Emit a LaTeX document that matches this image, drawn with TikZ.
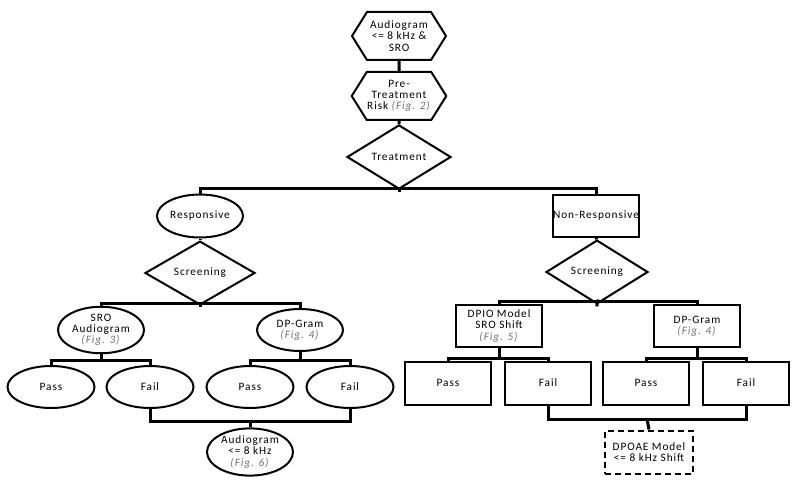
\documentclass[tikz,border=0pt]{standalone}
\usepackage{fontspec}
\setmainfont{Carlito}[LetterSpace=8]
\usetikzlibrary{shapes.geometric,shapes.symbols}
\newcommand{\figref}[1]{\textcolor{black!55}{\textit{(#1)}}}
\begin{document}
\begin{tikzpicture}[x=1pt,y=-1pt,
  base/.style={draw=black,line width=2pt,align=center,inner sep=0.5pt,
    font=\fontsize{11.3}{11.3}\selectfont},
  hexa/.style={base,signal,signal to=east and west,signal pointer angle=116,
    minimum width=94pt,minimum height=48pt},
  dia/.style={base,diamond,minimum width=104pt,minimum height=46pt},
  ell/.style={base,ellipse,minimum width=86pt,minimum height=42pt},
  box/.style={base,rectangle,minimum width=86pt,minimum height=42pt},
  conn/.style={line width=3pt,line cap=rect},
  connend/.style={line width=3pt,line cap=butt}]
\useasboundingbox (0,0) rectangle (800,481);
% top chain
\node[hexa] (aud) at (399,36) {Audiogram\\<= 8 kHz \&\\SRO};
\node[hexa] (pre) at (399,96) {Pre-\\Treatment\\Risk \figref{Fig. 2}};
\node[dia] (treat) at (399,157) {Treatment};
\node[ell,minimum height=43pt] (resp) at (200,216) {Responsive};
\node[box] (nonresp) at (596,216) {Non-Responsive};
\node[dia,minimum width=110pt,minimum height=40pt] (scrL) at (200,273) {Screening};
\node[dia,minimum width=102pt,minimum height=38pt] (scrR) at (597,272) {Screening};
% left second level
\node[ell] (sro) at (101,330) {SRO\\Audiogram\\\figref{Fig. 3}};
\node[ell] (dpgL) at (300,330) {DP-Gram\\\figref{Fig. 4}};
\node[ell,minimum width=87pt] (passL1) at (51,387) {Pass};
\node[ell,minimum width=87pt] (failL1) at (150,387) {Fail};
\node[ell,minimum width=87pt] (passL2) at (250,387) {Pass};
\node[ell,minimum width=87pt] (failL2) at (350,387) {Fail};
\node[ell,minimum height=43pt] (audL) at (250,452) {Audiogram\\<= 8 kHz\\\figref{Fig. 6}};
% right second level
\node[box] (dpio) at (499,326) {DPIO Model\\SRO Shift\\\figref{Fig. 5}};
\node[box] (dpgR) at (697,326) {DP-Gram\\\figref{Fig. 4}};
\node[box,minimum height=43pt] (passR1) at (448,383) {Pass};
\node[box,minimum height=43pt] (failR1) at (548,383) {Fail};
\node[box,minimum height=43pt] (passR2) at (646,383) {Pass};
\node[box,minimum height=43pt] (failR2) at (746,383) {Fail};
\node[box,dashed,dash pattern=on 6pt off 4pt,minimum width=88pt,minimum height=43pt] (dpoae) at (649,452) {DPOAE Model\\<= 8 kHz Shift};
% bus coordinates
\coordinate (bT) at (399,189);
\coordinate (bSL) at (200,303);
\coordinate (bSR) at (598,301);
\coordinate (bsro) at (101,360);
\coordinate (bdpgL) at (300,360);
\coordinate (bdpio) at (499,358);
\coordinate (bdpgR) at (697,358);
\coordinate (bFL) at (250,421);
\coordinate (bFR) at (647,419);
% connectors
\draw[connend] (aud) -- (pre);
\draw[connend] (pre) -- (treat);
\draw[conn] (treat.south) -- (bT);
\draw[conn] (resp.north) |- (bT) -| (nonresp.north);
\draw[connend] (resp) -- (scrL);
\draw[connend] (nonresp) -- (scrR);
\draw[conn] (scrL.south) -- (bSL);
\draw[conn] (sro.north) |- (bSL) -| (dpgL.north);
\draw[conn] (scrR.south) -- (bSR);
\draw[conn] (dpio.north) |- (bSR) -| (dpgR.north);
\draw[conn] (sro.south) -- (bsro);
\draw[conn] (passL1.north) |- (bsro) -| (failL1.north);
\draw[conn] (dpgL.south) -- (bdpgL);
\draw[conn] (passL2.north) |- (bdpgL) -| (failL2.north);
\draw[conn] (dpio.south) -- (bdpio);
\draw[conn] (passR1.north) |- (bdpio) -| (failR1.north);
\draw[conn] (dpgR.south) -- (bdpgR);
\draw[conn] (passR2.north) |- (bdpgR) -| (failR2.north);
\draw[conn] (failL1.south) |- (bFL) -| (failL2.south);
\draw[connend] (bFL) -- (audL.north);
\draw[conn] (failR1.south) |- (bFR) -| (failR2.south);
\draw[connend] (bFR) -- (dpoae.north);
\end{tikzpicture}
\end{document}
